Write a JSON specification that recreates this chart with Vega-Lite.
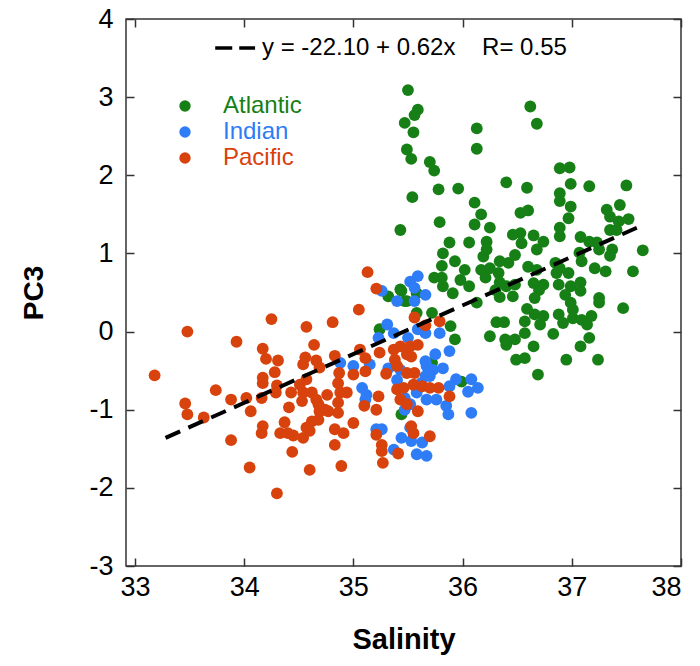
{
  "$schema": "https://vega.github.io/schema/vega-lite/v6.json",
  "width": 555,
  "height": 547,
  "autosize": {"type": "none"},
  "padding": {"left": 126, "top": 19, "right": 19, "bottom": 100},
  "background": "white",
  "config": {
    "font": "Liberation Sans",
    "view": {"stroke": "#333333", "strokeWidth": 1.5},
    "axis": {"grid": false, "domain": false, "tickColor": "#333333", "tickWidth": 1.5, "labelFont": "Liberation Sans", "labelColor": "black", "titleFont": "Liberation Sans", "titleColor": "black"}
  },
  "datasets": {
    "pts": [
      {"Ocean":"Atlantic","Salinity":35.50,"PC3":3.09},{"Ocean":"Atlantic","Salinity":35.59,"PC3":2.84},{"Ocean":"Atlantic","Salinity":35.56,"PC3":2.77},{"Ocean":"Atlantic","Salinity":35.47,"PC3":2.67},{"Ocean":"Atlantic","Salinity":35.55,"PC3":2.55},{"Ocean":"Atlantic","Salinity":35.49,"PC3":2.33},{"Ocean":"Atlantic","Salinity":35.53,"PC3":2.21},{"Ocean":"Atlantic","Salinity":35.70,"PC3":2.17},{"Ocean":"Atlantic","Salinity":35.74,"PC3":2.06},{"Ocean":"Atlantic","Salinity":35.54,"PC3":1.72},{"Ocean":"Atlantic","Salinity":35.78,"PC3":1.82},{"Ocean":"Atlantic","Salinity":35.96,"PC3":1.83},{"Ocean":"Atlantic","Salinity":35.79,"PC3":1.40},{"Ocean":"Atlantic","Salinity":35.43,"PC3":1.30},{"Ocean":"Atlantic","Salinity":36.13,"PC3":2.60},{"Ocean":"Atlantic","Salinity":36.13,"PC3":2.34},{"Ocean":"Atlantic","Salinity":36.62,"PC3":2.88},{"Ocean":"Atlantic","Salinity":36.68,"PC3":2.66},{"Ocean":"Atlantic","Salinity":36.40,"PC3":1.91},{"Ocean":"Atlantic","Salinity":36.59,"PC3":1.84},{"Ocean":"Atlantic","Salinity":36.89,"PC3":2.09},{"Ocean":"Atlantic","Salinity":36.98,"PC3":2.10},{"Ocean":"Atlantic","Salinity":36.99,"PC3":1.89},{"Ocean":"Atlantic","Salinity":37.16,"PC3":1.86},{"Ocean":"Atlantic","Salinity":37.50,"PC3":1.87},{"Ocean":"Atlantic","Salinity":36.11,"PC3":1.65},{"Ocean":"Atlantic","Salinity":36.17,"PC3":1.50},{"Ocean":"Atlantic","Salinity":36.11,"PC3":1.37},{"Ocean":"Atlantic","Salinity":36.25,"PC3":1.33},{"Ocean":"Atlantic","Salinity":36.53,"PC3":1.52},{"Ocean":"Atlantic","Salinity":36.60,"PC3":1.55},{"Ocean":"Atlantic","Salinity":36.89,"PC3":1.77},{"Ocean":"Atlantic","Salinity":36.89,"PC3":1.67},{"Ocean":"Atlantic","Salinity":36.99,"PC3":1.60},{"Ocean":"Atlantic","Salinity":36.97,"PC3":1.45},{"Ocean":"Atlantic","Salinity":36.89,"PC3":1.33},{"Ocean":"Atlantic","Salinity":36.89,"PC3":1.22},{"Ocean":"Atlantic","Salinity":37.32,"PC3":1.56},{"Ocean":"Atlantic","Salinity":37.44,"PC3":1.62},{"Ocean":"Atlantic","Salinity":37.35,"PC3":1.47},{"Ocean":"Atlantic","Salinity":37.43,"PC3":1.41},{"Ocean":"Atlantic","Salinity":37.52,"PC3":1.44},{"Ocean":"Atlantic","Salinity":37.35,"PC3":1.30},{"Ocean":"Atlantic","Salinity":37.41,"PC3":1.30},{"Ocean":"Atlantic","Salinity":35.88,"PC3":1.14},{"Ocean":"Atlantic","Salinity":36.06,"PC3":1.14},{"Ocean":"Atlantic","Salinity":35.82,"PC3":1.00},{"Ocean":"Atlantic","Salinity":35.81,"PC3":0.84},{"Ocean":"Atlantic","Salinity":35.93,"PC3":0.90},{"Ocean":"Atlantic","Salinity":36.02,"PC3":0.79},{"Ocean":"Atlantic","Salinity":35.74,"PC3":0.69},{"Ocean":"Atlantic","Salinity":35.81,"PC3":0.69},{"Ocean":"Atlantic","Salinity":35.82,"PC3":0.58},{"Ocean":"Atlantic","Salinity":35.98,"PC3":0.66},{"Ocean":"Atlantic","Salinity":36.06,"PC3":0.58},{"Ocean":"Atlantic","Salinity":35.91,"PC3":0.49},{"Ocean":"Atlantic","Salinity":36.22,"PC3":1.15},{"Ocean":"Atlantic","Salinity":36.22,"PC3":1.05},{"Ocean":"Atlantic","Salinity":36.19,"PC3":0.96},{"Ocean":"Atlantic","Salinity":36.17,"PC3":0.79},{"Ocean":"Atlantic","Salinity":36.25,"PC3":0.81},{"Ocean":"Atlantic","Salinity":36.21,"PC3":0.69},{"Ocean":"Atlantic","Salinity":36.34,"PC3":0.90},{"Ocean":"Atlantic","Salinity":36.42,"PC3":0.88},{"Ocean":"Atlantic","Salinity":36.48,"PC3":0.98},{"Ocean":"Atlantic","Salinity":36.46,"PC3":1.24},{"Ocean":"Atlantic","Salinity":36.53,"PC3":1.26},{"Ocean":"Atlantic","Salinity":36.54,"PC3":1.13},{"Ocean":"Atlantic","Salinity":36.65,"PC3":1.23},{"Ocean":"Atlantic","Salinity":36.74,"PC3":1.15},{"Ocean":"Atlantic","Salinity":36.68,"PC3":1.05},{"Ocean":"Atlantic","Salinity":36.60,"PC3":0.83},{"Ocean":"Atlantic","Salinity":36.68,"PC3":0.79},{"Ocean":"Atlantic","Salinity":36.33,"PC3":0.75},{"Ocean":"Atlantic","Salinity":36.34,"PC3":0.63},{"Ocean":"Atlantic","Salinity":36.40,"PC3":0.58},{"Ocean":"Atlantic","Salinity":36.48,"PC3":0.60},{"Ocean":"Atlantic","Salinity":36.30,"PC3":0.53},{"Ocean":"Atlantic","Salinity":36.65,"PC3":0.62},{"Ocean":"Atlantic","Salinity":36.74,"PC3":0.60},{"Ocean":"Atlantic","Salinity":36.70,"PC3":0.53},{"Ocean":"Atlantic","Salinity":36.66,"PC3":0.43},{"Ocean":"Atlantic","Salinity":36.85,"PC3":0.88},{"Ocean":"Atlantic","Salinity":36.89,"PC3":0.81},{"Ocean":"Atlantic","Salinity":36.97,"PC3":0.75},{"Ocean":"Atlantic","Salinity":36.86,"PC3":0.75},{"Ocean":"Atlantic","Salinity":37.07,"PC3":1.01},{"Ocean":"Atlantic","Salinity":37.09,"PC3":0.90},{"Ocean":"Atlantic","Salinity":37.08,"PC3":1.21},{"Ocean":"Atlantic","Salinity":37.16,"PC3":1.15},{"Ocean":"Atlantic","Salinity":37.23,"PC3":1.14},{"Ocean":"Atlantic","Salinity":37.25,"PC3":1.05},{"Ocean":"Atlantic","Salinity":37.21,"PC3":0.81},{"Ocean":"Atlantic","Salinity":37.31,"PC3":0.77},{"Ocean":"Atlantic","Salinity":37.37,"PC3":1.05},{"Ocean":"Atlantic","Salinity":37.35,"PC3":0.97},{"Ocean":"Atlantic","Salinity":37.65,"PC3":1.04},{"Ocean":"Atlantic","Salinity":37.56,"PC3":0.77},{"Ocean":"Atlantic","Salinity":36.88,"PC3":0.60},{"Ocean":"Atlantic","Salinity":36.99,"PC3":0.58},{"Ocean":"Atlantic","Salinity":37.08,"PC3":0.63},{"Ocean":"Atlantic","Salinity":37.08,"PC3":0.52},{"Ocean":"Atlantic","Salinity":36.94,"PC3":0.47},{"Ocean":"Atlantic","Salinity":36.99,"PC3":0.37},{"Ocean":"Atlantic","Salinity":37.01,"PC3":0.28},{"Ocean":"Atlantic","Salinity":37.25,"PC3":0.43},{"Ocean":"Atlantic","Salinity":37.25,"PC3":0.37},{"Ocean":"Atlantic","Salinity":37.47,"PC3":0.30},{"Ocean":"Atlantic","Salinity":36.88,"PC3":0.22},{"Ocean":"Atlantic","Salinity":36.92,"PC3":0.11},{"Ocean":"Atlantic","Salinity":37.01,"PC3":0.17},{"Ocean":"Atlantic","Salinity":37.09,"PC3":0.15},{"Ocean":"Atlantic","Salinity":37.18,"PC3":0.20},{"Ocean":"Atlantic","Salinity":37.14,"PC3":0.09},{"Ocean":"Atlantic","Salinity":37.16,"PC3":-0.08},{"Ocean":"Atlantic","Salinity":37.08,"PC3":-0.19},{"Ocean":"Atlantic","Salinity":36.83,"PC3":-0.03},{"Ocean":"Atlantic","Salinity":36.95,"PC3":-0.36},{"Ocean":"Atlantic","Salinity":37.24,"PC3":-0.36},{"Ocean":"Atlantic","Salinity":36.69,"PC3":-0.55},{"Ocean":"Atlantic","Salinity":36.49,"PC3":-0.36},{"Ocean":"Atlantic","Salinity":36.57,"PC3":-0.34},{"Ocean":"Atlantic","Salinity":36.65,"PC3":-0.19},{"Ocean":"Atlantic","Salinity":36.57,"PC3":-0.02},{"Ocean":"Atlantic","Salinity":36.57,"PC3":0.13},{"Ocean":"Atlantic","Salinity":36.71,"PC3":0.09},{"Ocean":"Atlantic","Salinity":36.74,"PC3":0.20},{"Ocean":"Atlantic","Salinity":36.66,"PC3":0.22},{"Ocean":"Atlantic","Salinity":36.59,"PC3":0.29},{"Ocean":"Atlantic","Salinity":36.40,"PC3":-0.17},{"Ocean":"Atlantic","Salinity":36.48,"PC3":-0.10},{"Ocean":"Atlantic","Salinity":36.39,"PC3":-0.10},{"Ocean":"Atlantic","Salinity":36.31,"PC3":0.12},{"Ocean":"Atlantic","Salinity":36.38,"PC3":0.12},{"Ocean":"Atlantic","Salinity":36.25,"PC3":-0.06},{"Ocean":"Atlantic","Salinity":36.13,"PC3":0.37},{"Ocean":"Atlantic","Salinity":36.34,"PC3":0.44},{"Ocean":"Atlantic","Salinity":36.46,"PC3":0.45},{"Ocean":"Atlantic","Salinity":35.58,"PC3":0.49},{"Ocean":"Atlantic","Salinity":35.47,"PC3":0.39},{"Ocean":"Atlantic","Salinity":35.43,"PC3":0.54},{"Ocean":"Atlantic","Salinity":35.32,"PC3":0.45},{"Ocean":"Atlantic","Salinity":35.44,"PC3":0.52},{"Ocean":"Atlantic","Salinity":35.49,"PC3":0.39},{"Ocean":"Atlantic","Salinity":35.58,"PC3":0.24},{"Ocean":"Atlantic","Salinity":35.72,"PC3":0.24},{"Ocean":"Atlantic","Salinity":35.89,"PC3":0.07},{"Ocean":"Atlantic","Salinity":35.93,"PC3":-0.10},{"Ocean":"Atlantic","Salinity":35.24,"PC3":0.03},{"Ocean":"Atlantic","Salinity":35.44,"PC3":-1.06},{"Ocean":"Atlantic","Salinity":35.99,"PC3":-0.64},{"Ocean":"Atlantic","Salinity":35.72,"PC3":-0.40},
      {"Ocean":"Indian","Salinity":35.52,"PC3":0.64},{"Ocean":"Indian","Salinity":35.59,"PC3":0.71},{"Ocean":"Indian","Salinity":35.56,"PC3":0.56},{"Ocean":"Indian","Salinity":35.66,"PC3":0.47},{"Ocean":"Indian","Salinity":35.40,"PC3":0.39},{"Ocean":"Indian","Salinity":35.56,"PC3":0.39},{"Ocean":"Indian","Salinity":35.26,"PC3":0.52},{"Ocean":"Indian","Salinity":35.31,"PC3":0.09},{"Ocean":"Indian","Salinity":35.37,"PC3":-0.02},{"Ocean":"Indian","Salinity":35.23,"PC3":-0.08},{"Ocean":"Indian","Salinity":35.59,"PC3":0.03},{"Ocean":"Indian","Salinity":35.66,"PC3":-0.02},{"Ocean":"Indian","Salinity":35.79,"PC3":-0.02},{"Ocean":"Indian","Salinity":35.50,"PC3":-0.08},{"Ocean":"Indian","Salinity":34.88,"PC3":-0.40},{"Ocean":"Indian","Salinity":35.00,"PC3":-0.44},{"Ocean":"Indian","Salinity":35.15,"PC3":-0.42},{"Ocean":"Indian","Salinity":35.75,"PC3":-0.29},{"Ocean":"Indian","Salinity":35.88,"PC3":-0.25},{"Ocean":"Indian","Salinity":35.67,"PC3":-0.44},{"Ocean":"Indian","Salinity":35.73,"PC3":-0.49},{"Ocean":"Indian","Salinity":35.82,"PC3":-0.47},{"Ocean":"Indian","Salinity":35.66,"PC3":-0.57},{"Ocean":"Indian","Salinity":35.70,"PC3":-0.57},{"Ocean":"Indian","Salinity":35.32,"PC3":-0.47},{"Ocean":"Indian","Salinity":35.43,"PC3":-0.49},{"Ocean":"Indian","Salinity":35.08,"PC3":-0.72},{"Ocean":"Indian","Salinity":35.12,"PC3":-0.81},{"Ocean":"Indian","Salinity":35.11,"PC3":-0.87},{"Ocean":"Indian","Salinity":35.94,"PC3":-0.61},{"Ocean":"Indian","Salinity":36.08,"PC3":-0.61},{"Ocean":"Indian","Salinity":36.14,"PC3":-0.72},{"Ocean":"Indian","Salinity":36.05,"PC3":-0.77},{"Ocean":"Indian","Salinity":35.88,"PC3":-0.70},{"Ocean":"Indian","Salinity":35.58,"PC3":-0.78},{"Ocean":"Indian","Salinity":35.67,"PC3":-0.87},{"Ocean":"Indian","Salinity":35.76,"PC3":-0.87},{"Ocean":"Indian","Salinity":35.47,"PC3":-1.00},{"Ocean":"Indian","Salinity":35.85,"PC3":-0.95},{"Ocean":"Indian","Salinity":35.87,"PC3":-1.06},{"Ocean":"Indian","Salinity":36.08,"PC3":-1.04},{"Ocean":"Indian","Salinity":35.21,"PC3":-1.25},{"Ocean":"Indian","Salinity":35.26,"PC3":-1.25},{"Ocean":"Indian","Salinity":35.44,"PC3":-1.36},{"Ocean":"Indian","Salinity":35.52,"PC3":-1.23},{"Ocean":"Indian","Salinity":35.53,"PC3":-1.40},{"Ocean":"Indian","Salinity":35.63,"PC3":-1.42},{"Ocean":"Indian","Salinity":35.58,"PC3":-1.57},{"Ocean":"Indian","Salinity":35.67,"PC3":-1.59},{"Ocean":"Indian","Salinity":35.37,"PC3":-1.51},{"Ocean":"Indian","Salinity":35.47,"PC3":-0.85},{"Ocean":"Indian","Salinity":35.52,"PC3":-0.93},{"Ocean":"Indian","Salinity":35.66,"PC3":-0.38},{"Ocean":"Indian","Salinity":35.40,"PC3":-0.62},{"Ocean":"Indian","Salinity":35.62,"PC3":-0.66},
      {"Ocean":"Pacific","Salinity":33.18,"PC3":-0.56},{"Ocean":"Pacific","Salinity":33.48,"PC3":0.00},{"Ocean":"Pacific","Salinity":34.25,"PC3":0.16},{"Ocean":"Pacific","Salinity":34.57,"PC3":0.06},{"Ocean":"Pacific","Salinity":33.93,"PC3":-0.13},{"Ocean":"Pacific","Salinity":34.17,"PC3":-0.22},{"Ocean":"Pacific","Salinity":34.20,"PC3":-0.35},{"Ocean":"Pacific","Salinity":34.31,"PC3":-0.37},{"Ocean":"Pacific","Salinity":34.64,"PC3":-0.17},{"Ocean":"Pacific","Salinity":34.28,"PC3":-0.52},{"Ocean":"Pacific","Salinity":34.17,"PC3":-0.59},{"Ocean":"Pacific","Salinity":34.17,"PC3":-0.66},{"Ocean":"Pacific","Salinity":34.30,"PC3":-0.69},{"Ocean":"Pacific","Salinity":34.29,"PC3":-0.78},{"Ocean":"Pacific","Salinity":33.74,"PC3":-0.75},{"Ocean":"Pacific","Salinity":33.88,"PC3":-0.87},{"Ocean":"Pacific","Salinity":34.02,"PC3":-0.85},{"Ocean":"Pacific","Salinity":34.16,"PC3":-0.85},{"Ocean":"Pacific","Salinity":33.46,"PC3":-0.92},{"Ocean":"Pacific","Salinity":33.48,"PC3":-1.06},{"Ocean":"Pacific","Salinity":33.63,"PC3":-1.10},{"Ocean":"Pacific","Salinity":34.06,"PC3":-1.02},{"Ocean":"Pacific","Salinity":34.41,"PC3":-0.97},{"Ocean":"Pacific","Salinity":33.88,"PC3":-1.39},{"Ocean":"Pacific","Salinity":34.17,"PC3":-1.21},{"Ocean":"Pacific","Salinity":34.16,"PC3":-1.30},{"Ocean":"Pacific","Salinity":34.37,"PC3":-1.16},{"Ocean":"Pacific","Salinity":34.33,"PC3":-1.30},{"Ocean":"Pacific","Salinity":34.40,"PC3":-1.30},{"Ocean":"Pacific","Salinity":34.45,"PC3":-1.33},{"Ocean":"Pacific","Salinity":34.54,"PC3":-1.36},{"Ocean":"Pacific","Salinity":34.44,"PC3":-1.54},{"Ocean":"Pacific","Salinity":34.05,"PC3":-1.74},{"Ocean":"Pacific","Salinity":34.60,"PC3":-1.77},{"Ocean":"Pacific","Salinity":34.30,"PC3":-2.07},{"Ocean":"Pacific","Salinity":34.56,"PC3":-0.33},{"Ocean":"Pacific","Salinity":34.66,"PC3":-0.37},{"Ocean":"Pacific","Salinity":34.69,"PC3":-0.46},{"Ocean":"Pacific","Salinity":34.54,"PC3":-0.42},{"Ocean":"Pacific","Salinity":34.57,"PC3":-0.61},{"Ocean":"Pacific","Salinity":34.51,"PC3":-0.68},{"Ocean":"Pacific","Salinity":34.43,"PC3":-0.78},{"Ocean":"Pacific","Salinity":34.54,"PC3":-0.78},{"Ocean":"Pacific","Salinity":34.62,"PC3":-0.78},{"Ocean":"Pacific","Salinity":34.66,"PC3":-0.87},{"Ocean":"Pacific","Salinity":34.53,"PC3":-0.89},{"Ocean":"Pacific","Salinity":34.68,"PC3":-0.93},{"Ocean":"Pacific","Salinity":34.76,"PC3":-0.81},{"Ocean":"Pacific","Salinity":34.69,"PC3":-1.02},{"Ocean":"Pacific","Salinity":34.77,"PC3":-1.02},{"Ocean":"Pacific","Salinity":34.62,"PC3":-1.15},{"Ocean":"Pacific","Salinity":34.57,"PC3":-1.23},{"Ocean":"Pacific","Salinity":34.68,"PC3":-1.13},{"Ocean":"Pacific","Salinity":34.60,"PC3":-1.27},{"Ocean":"Pacific","Salinity":35.13,"PC3":0.76},{"Ocean":"Pacific","Salinity":35.21,"PC3":0.55},{"Ocean":"Pacific","Salinity":35.05,"PC3":0.28},{"Ocean":"Pacific","Salinity":34.81,"PC3":0.12},{"Ocean":"Pacific","Salinity":35.56,"PC3":0.18},{"Ocean":"Pacific","Salinity":35.66,"PC3":0.08},{"Ocean":"Pacific","Salinity":35.79,"PC3":0.13},{"Ocean":"Pacific","Salinity":34.83,"PC3":-0.31},{"Ocean":"Pacific","Salinity":35.06,"PC3":-0.23},{"Ocean":"Pacific","Salinity":35.11,"PC3":-0.34},{"Ocean":"Pacific","Salinity":35.24,"PC3":-0.27},{"Ocean":"Pacific","Salinity":35.00,"PC3":-0.55},{"Ocean":"Pacific","Salinity":35.11,"PC3":-0.51},{"Ocean":"Pacific","Salinity":35.30,"PC3":-0.54},{"Ocean":"Pacific","Salinity":34.87,"PC3":-0.53},{"Ocean":"Pacific","Salinity":34.86,"PC3":-0.66},{"Ocean":"Pacific","Salinity":34.88,"PC3":-0.78},{"Ocean":"Pacific","Salinity":34.94,"PC3":-0.78},{"Ocean":"Pacific","Salinity":34.86,"PC3":-0.91},{"Ocean":"Pacific","Salinity":34.86,"PC3":-1.04},{"Ocean":"Pacific","Salinity":34.74,"PC3":-1.00},{"Ocean":"Pacific","Salinity":35.00,"PC3":-1.17},{"Ocean":"Pacific","Salinity":34.83,"PC3":-1.25},{"Ocean":"Pacific","Salinity":34.91,"PC3":-1.30},{"Ocean":"Pacific","Salinity":34.83,"PC3":-1.45},{"Ocean":"Pacific","Salinity":34.89,"PC3":-1.72},{"Ocean":"Pacific","Salinity":35.10,"PC3":-0.95},{"Ocean":"Pacific","Salinity":35.21,"PC3":-1.00},{"Ocean":"Pacific","Salinity":35.23,"PC3":-0.83},{"Ocean":"Pacific","Salinity":35.21,"PC3":-1.32},{"Ocean":"Pacific","Salinity":35.26,"PC3":-1.45},{"Ocean":"Pacific","Salinity":35.26,"PC3":-1.53},{"Ocean":"Pacific","Salinity":35.27,"PC3":-1.68},{"Ocean":"Pacific","Salinity":35.41,"PC3":-1.56},{"Ocean":"Pacific","Salinity":35.37,"PC3":-0.23},{"Ocean":"Pacific","Salinity":35.43,"PC3":-0.19},{"Ocean":"Pacific","Salinity":35.52,"PC3":-0.19},{"Ocean":"Pacific","Salinity":35.59,"PC3":-0.17},{"Ocean":"Pacific","Salinity":35.38,"PC3":-0.36},{"Ocean":"Pacific","Salinity":35.49,"PC3":-0.29},{"Ocean":"Pacific","Salinity":35.53,"PC3":-0.32},{"Ocean":"Pacific","Salinity":35.40,"PC3":-0.44},{"Ocean":"Pacific","Salinity":35.49,"PC3":-0.53},{"Ocean":"Pacific","Salinity":35.56,"PC3":-0.53},{"Ocean":"Pacific","Salinity":35.40,"PC3":-0.74},{"Ocean":"Pacific","Salinity":35.46,"PC3":-0.72},{"Ocean":"Pacific","Salinity":35.55,"PC3":-0.68},{"Ocean":"Pacific","Salinity":35.63,"PC3":-0.70},{"Ocean":"Pacific","Salinity":35.70,"PC3":-0.72},{"Ocean":"Pacific","Salinity":35.78,"PC3":-0.72},{"Ocean":"Pacific","Salinity":35.43,"PC3":-0.87},{"Ocean":"Pacific","Salinity":35.49,"PC3":-0.93},{"Ocean":"Pacific","Salinity":35.59,"PC3":-1.02},{"Ocean":"Pacific","Salinity":35.88,"PC3":-0.83},{"Ocean":"Pacific","Salinity":35.53,"PC3":-1.21},{"Ocean":"Pacific","Salinity":35.55,"PC3":-1.30},{"Ocean":"Pacific","Salinity":35.70,"PC3":-1.34}
    ],
    "fit": [
      {"Salinity": 33.28, "PC3": -1.36},
      {"Salinity": 37.63, "PC3": 1.35}
    ]
  },
  "layer": [
    {
      "data": {"name": "pts"},
      "mark": {"type": "circle", "size": 140, "opacity": 1},
      "encoding": {
        "x": {"field": "Salinity", "type": "quantitative",
              "scale": {"domain": [32.918, 38], "nice": false, "zero": false},
              "axis": {"orient": "bottom", "values": [33, 34, 35, 36, 37, 38], "labelExpr": "datum.value + ''", "tickSize": -8, "labelPadding": 16, "labelFontSize": 27, "title": "Salinity", "titleFontSize": 29, "titleFontWeight": "bold", "titlePadding": 25}},
        "y": {"field": "PC3", "type": "quantitative",
              "scale": {"domain": [-3, 4], "nice": false, "zero": false},
              "axis": {"orient": "left", "values": [-3, -2, -1, 0, 1, 2, 3, 4], "labelExpr": "datum.value + ''", "tickSize": -8, "labelPadding": 21, "labelFontSize": 27, "title": "PC3", "titleFontSize": 28, "titleFontWeight": "bold", "titlePadding": 40}},
        "color": {"field": "Ocean", "type": "nominal",
                  "scale": {"domain": ["Atlantic", "Indian", "Pacific"], "range": ["#168016", "#2e7cf6", "#d8420c"]},
                  "legend": {"orient": "none", "legendX": 47, "legendY": 75, "title": null, "padding": 0,
                             "symbolType": "circle", "symbolSize": 130, "symbolStrokeWidth": 0, "symbolOpacity": 1,
                             "labelFontSize": 24, "labelFont": "Liberation Sans", "labelOffset": 26, "rowPadding": 2,
                             "labelColor": {"expr": "datum.value == 'Atlantic' ? '#168016' : datum.value == 'Indian' ? '#2e7cf6' : '#d8420c'"}}}
      }
    },
    {
      "data": {"name": "fit"},
      "mark": {"type": "line", "color": "black", "strokeWidth": 4, "strokeDash": [16, 9]},
      "encoding": {
        "x": {"field": "Salinity", "type": "quantitative",
              "axis": {"orient": "top", "values": [33, 34, 35, 36, 37, 38], "tickSize": -8, "labels": false, "title": null}},
        "y": {"field": "PC3", "type": "quantitative",
              "axis": {"orient": "right", "values": [-3, -2, -1, 0, 1, 2, 3, 4], "tickSize": -8, "labels": false, "title": null}}
      }
    },
    {
      "data": {"values": [{}]},
      "mark": {"type": "rule", "color": "black", "strokeWidth": 3.5, "strokeDash": [17, 7]},
      "encoding": {
        "x": {"datum": 33.735, "type": "quantitative", "axis": null},
        "x2": {"datum": 34.10},
        "y": {"datum": 3.63, "type": "quantitative", "axis": null}
      }
    },
    {
      "data": {"values": [{"label": "y = -22.10 + 0.62x \u00a0\u00a0 R= 0.55"}]},
      "mark": {"type": "text", "align": "left", "baseline": "middle", "fontSize": 24, "font": "Liberation Sans", "color": "black"},
      "encoding": {
        "x": {"datum": 34.163, "type": "quantitative", "axis": null},
        "y": {"datum": 3.63, "type": "quantitative", "axis": null},
        "text": {"field": "label"}
      }
    }
  ],
  "resolve": {"axis": {"x": "independent", "y": "independent"}}
}
